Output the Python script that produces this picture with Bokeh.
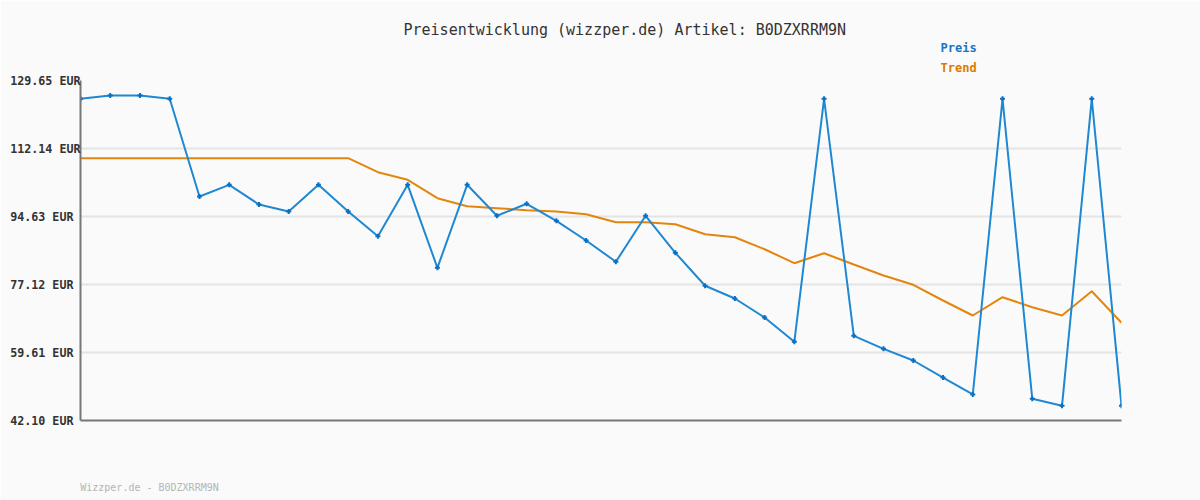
from bokeh.plotting import figure
from bokeh.models import Range1d, FixedTicker, Title, LinearAxis
from bokeh.embed import file_html
from bokeh.resources import INLINE

# ---- data ----
idx = list(range(36))
preis = [124.94, 125.79, 125.79, 124.94, 99.78, 102.79, 97.72, 95.92, 102.79, 95.92,
         89.56, 102.79, 81.42, 102.79, 94.81, 97.90, 93.52, 88.45, 82.97, 94.81,
         85.28, 76.79, 73.52, 68.62, 62.37, 124.94, 63.91, 60.56, 57.55, 53.17,
         48.80, 124.94, 47.69, 45.89, 124.94, 45.89]
trend = [109.64] * 10 + [106.04, 104.08, 99.34, 97.28, 96.77, 96.25, 95.92, 95.22, 93.16, 93.16,
         92.65, 90.07, 89.30, 86.20, 82.60, 85.18, 82.27, 79.44, 77.04, 73.00,
         69.14, 73.85, 71.27, 69.14, 75.39, 67.26]
y_ticks = [42.10, 59.61, 77.12, 94.63, 112.14, 129.65]
y_tick_labels = ["42.10 EUR", "59.61 EUR", "77.12 EUR", "94.63 EUR", "112.14 EUR", "129.65 EUR"]
title_text = "Preisentwicklung (wizzper.de) Artikel: B0DZXRRM9N"
footer_text = "Wizzper.de - B0DZXRRM9N"
series_names = ["Preis", "Trend"]

BLUE = "#1f88d2"
BLUE_DARK = "#0a6fc2"
ORANGE = "#e3860f"
BG = "#fafafa"
MONO = "DejaVu Sans Mono"

p = figure(width=1200, height=500, output_backend="svg", toolbar_location=None,
           x_range=Range1d(0, 35), y_range=Range1d(42.10, 129.65),
           min_border_left=80, min_border_right=79, min_border_top=80, min_border_bottom=80,
           background_fill_color=BG, border_fill_color=BG, outline_line_color=None)
p.title.visible = False

# axes
yax = p.yaxis[0]
yax.ticker = FixedTicker(ticks=y_ticks)
yax.major_label_overrides = {t: (l if len(l) == 10 else l + "\u00a0") for t, l in zip(y_ticks, y_tick_labels)}
yax.major_tick_out = 0
yax.major_tick_in = 0
yax.minor_tick_out = 0
yax.minor_tick_in = 0
yax.major_label_standoff = 0
yax.axis_line_color = "#777777"
yax.axis_line_width = 2
yax.major_label_text_font = MONO
yax.major_label_text_font_style = "bold"
yax.major_label_text_font_size = "11.7px"
yax.major_label_text_color = "#333333"

xax = p.xaxis[0]
xax.ticker = FixedTicker(ticks=[])
xax.major_tick_out = 0
xax.minor_tick_out = 0
xax.axis_line_color = "#777777"
xax.axis_line_width = 2
xax.major_label_text_font_size = "0px"

# footer line as a secondary bottom axis in pixel-like units of the frame
p.extra_x_ranges = {"footer": Range1d(0, 1041)}
foot_pos = 69
foot_ax = LinearAxis(x_range_name="footer", ticker=FixedTicker(ticks=[foot_pos]),
                     major_label_overrides={foot_pos: footer_text},
                     axis_line_color=None, major_tick_line_color=None, minor_tick_line_color=None,
                     major_tick_out=0, major_tick_in=0, minor_tick_out=0, minor_tick_in=0,
                     major_label_standoff=61, major_label_text_font=MONO,
                     major_label_text_font_style="normal", major_label_text_font_size="10px",
                     major_label_text_color="#b5b5b5")
p.add_layout(foot_ax, "below")

p.xgrid.grid_line_color = None
p.ygrid.ticker = FixedTicker(ticks=y_ticks)
p.ygrid.grid_line_color = "#e4e4e4"
p.ygrid.grid_line_width = 2

# series
p.line(idx, trend, line_color=ORANGE, line_width=2)
p.line(idx, preis, line_color=BLUE, line_width=2)
p.scatter(idx, preis, marker="cross", size=5, line_width=2, line_color=BLUE_DARK)

# texts (stacked from frame outward)
p.add_layout(Title(text=series_names[1], align="left", offset=860, standoff=11,
                   text_font=MONO, text_font_style="bold", text_font_size="12px",
                   text_color="#d97a00"), "above")
p.add_layout(Title(text=series_names[0], align="left", offset=860, standoff=-2,
                   text_font=MONO, text_font_style="bold", text_font_size="12px",
                   text_color="#1677c4"), "above")
p.add_layout(Title(text=title_text, align="left", offset=323, standoff=1,
                   text_font=MONO, text_font_style="normal", text_font_size="15px",
                   text_color="#333333"), "above")

open("out.html", "w").write(file_html(p, INLINE))
